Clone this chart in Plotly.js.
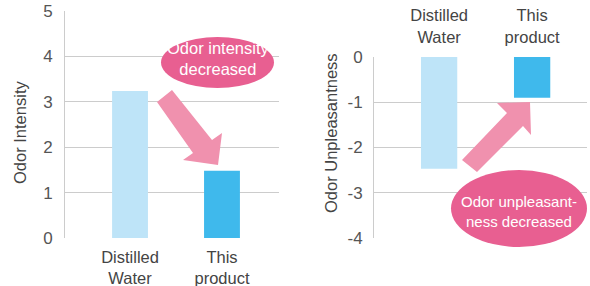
<!DOCTYPE html>
<html>
<head>
<meta charset="utf-8">
<script src="https://cdn.plot.ly/plotly-3.0.1.min.js"></script>
<style>html,body{margin:0;padding:0;background:#fff}#chart{width:590px;height:286px}</style>
</head>
<body>
<div id="chart"></div>
<script>
// ---- data ----
var categories = ['Distilled<br>Water', 'This<br>product'];
var intensityValues = [3.24, 1.48];
var unpleasantnessValues = [-2.47, -0.9];
var intensityTicks = [0, 1, 2, 3, 4, 5];
var unpleasantTicks = [-4, -3, -2, -1, 0];
var unpleasantTickLabels = ['-4', '-3', '-2', '-1', '0'];
var barColors = ['#BEE4F8', '#3FB9EC'];

// ---- layout helpers (pixel -> paper) ----
var W = 590, H = 286;
function px(x) { return x / W; }
function py(y) { return 1 - y / H; }
function poly(pts) {
  return 'M' + pts.map(function (p) { return px(p[0]) + ',' + py(p[1]); }).join(' L') + ' Z';
}

var FONT = 'Liberation Sans, Arial, sans-serif';
var GRID = '#CCCCCC';

var traces = [
  { type: 'bar', x: categories, y: intensityValues, xaxis: 'x', yaxis: 'y',
    marker: { color: barColors }, width: 0.39, hoverinfo: 'none' },
  { type: 'bar', x: categories, y: unpleasantnessValues, xaxis: 'x2', yaxis: 'y2',
    marker: { color: barColors }, width: 0.39, hoverinfo: 'none' }
];

var layout = {
  width: W, height: H,
  margin: { l: 0, r: 0, t: 0, b: 0 },
  paper_bgcolor: '#fff', plot_bgcolor: '#fff',
  showlegend: false,
  font: { family: FONT, color: '#444', size: 16 },
  xaxis: {
    domain: [px(65), px(279)], anchor: 'y',
    range: [-0.707, 1.62], showgrid: false, zeroline: false,
    showline: false, ticks: '', ticklabelstandoff: 7, tickfont: { size: 16.5, color: '#444' },
    fixedrange: true
  },
  yaxis: {
    domain: [py(238), py(11)], anchor: 'x',
    range: [0, 5], tickvals: intensityTicks, showgrid: true, gridcolor: GRID, gridwidth: 1,
    zeroline: false, showline: true, linecolor: GRID, linewidth: 1,
    ticks: '', ticklabelstandoff: 8, tickfont: { size: 17, color: '#555' },
    fixedrange: true
  },
  xaxis2: {
    domain: [px(374), px(587)], anchor: 'y2', side: 'top',
    range: [-0.70, 1.59], showgrid: false, zeroline: false,
    showline: false, ticks: '', ticklabelstandoff: 10, tickfont: { size: 16.5, color: '#444' },
    fixedrange: true
  },
  yaxis2: {
    domain: [py(238), py(57)], anchor: 'x2',
    range: [-4, 0], tickvals: unpleasantTicks, ticktext: unpleasantTickLabels,
    showgrid: true, gridcolor: GRID, gridwidth: 1,
    zeroline: false, showline: true, linecolor: GRID, linewidth: 1,
    ticks: '', ticklabelstandoff: 7, tickfont: { size: 17, color: '#555' },
    fixedrange: true
  },
  shapes: [
    // left arrow (down-right)
    { type: 'path', xref: 'paper', yref: 'paper', layer: 'above', line: { width: 0 },
      fillcolor: '#F091AE',
      path: poly([[157,102],[172,90],[212,140],[222,133],[218,165],[183,160],[193,153]]) },
    // left ellipse
    { type: 'circle', xref: 'paper', yref: 'paper', layer: 'above', line: { width: 0 },
      fillcolor: '#E85F91', x0: px(161), x1: px(274), y0: py(88), y1: py(37) },
    // right arrow (up-right)
    { type: 'path', xref: 'paper', yref: 'paper', layer: 'above', line: { width: 0 },
      fillcolor: '#F091AE',
      path: poly([[462,160],[507,113],[497,103],[530,102],[531,135],[523,126],[477,172]]) },
    // right ellipse
    { type: 'circle', xref: 'paper', yref: 'paper', layer: 'above', line: { width: 0 },
      fillcolor: '#E85F91', x0: px(451), x1: px(587), y0: py(247), y1: py(170) }
  ],
  annotations: [
    { xref: 'paper', yref: 'paper', x: px(20), y: py(133), showarrow: false,
      xanchor: 'center', yanchor: 'middle', textangle: -90,
      text: 'Odor Intensity', font: { family: FONT, size: 16.5, color: '#444' } },
    { xref: 'paper', yref: 'paper', x: px(331), y: py(133), showarrow: false,
      xanchor: 'center', yanchor: 'middle', textangle: -90,
      text: 'Odor Unpleasantness', font: { family: FONT, size: 16.5, color: '#444' } },
    { xref: 'paper', yref: 'paper', x: px(218), y: py(59), showarrow: false,
      xanchor: 'center', yanchor: 'middle',
      text: 'Odor intensity<br>decreased', align: 'center',
      font: { family: FONT, size: 16.5, color: '#fff' } },
    { xref: 'paper', yref: 'paper', x: px(519), y: py(211), showarrow: false,
      xanchor: 'center', yanchor: 'middle',
      text: 'Odor unpleasant-<br>ness decreased', align: 'center',
      font: { family: FONT, size: 15, color: '#fff' } }
  ]
};

Plotly.newPlot('chart', traces, layout, { staticPlot: true, displayModeBar: false });
</script>
</body>
</html>
